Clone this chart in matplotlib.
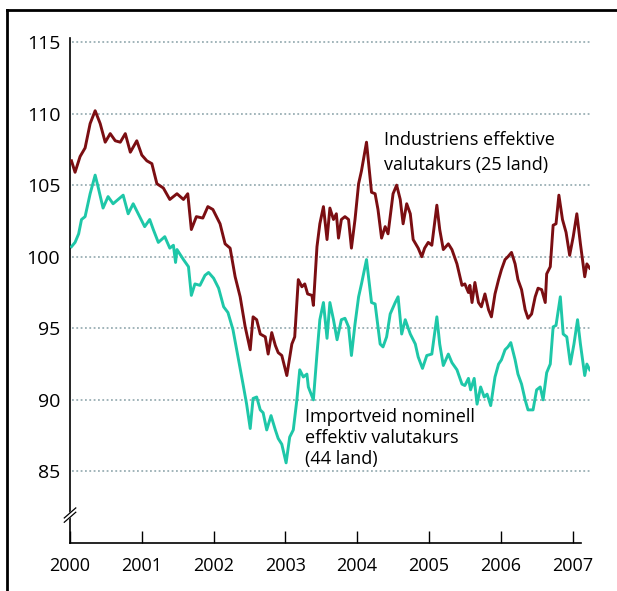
import numpy as np
import matplotlib
matplotlib.use('Agg')
import matplotlib.pyplot as plt
from matplotlib.lines import Line2D

plt.rcParams['font.family'] = ['Open Sans', 'DejaVu Sans']

# Industriens effektive valutakurs (25 land), decimal years
ind_t = [2000.02, 2000.07, 2000.14, 2000.21, 2000.28, 2000.35, 2000.42, 2000.49, 2000.56, 2000.63,
         2000.70, 2000.77, 2000.84, 2000.93, 2001.00, 2001.07, 2001.14, 2001.21, 2001.30, 2001.39,
         2001.49, 2001.58, 2001.64, 2001.69, 2001.76, 2001.85, 2001.92, 2001.99, 2002.09, 2002.16,
         2002.23, 2002.30, 2002.37, 2002.44, 2002.51, 2002.55, 2002.60, 2002.65, 2002.72, 2002.76,
         2002.81, 2002.86, 2002.90, 2002.95, 2003.02, 2003.09, 2003.13, 2003.18, 2003.23, 2003.27,
         2003.31, 2003.37, 2003.39, 2003.44, 2003.48, 2003.53, 2003.58, 2003.62, 2003.67, 2003.71,
         2003.74, 2003.78, 2003.83, 2003.88, 2003.92, 2003.97, 2004.02, 2004.06, 2004.13, 2004.20,
         2004.25, 2004.29, 2004.34, 2004.39, 2004.43, 2004.50, 2004.55, 2004.60, 2004.64, 2004.69,
         2004.74, 2004.78, 2004.85, 2004.90, 2004.94, 2004.99, 2005.04, 2005.11, 2005.15, 2005.20,
         2005.27, 2005.32, 2005.39, 2005.46, 2005.50, 2005.55, 2005.57, 2005.60, 2005.64, 2005.69,
         2005.73, 2005.78, 2005.83, 2005.87, 2005.92, 2005.97, 2006.01, 2006.06, 2006.10, 2006.15,
         2006.20, 2006.24, 2006.29, 2006.34, 2006.38, 2006.43, 2006.48, 2006.52, 2006.57, 2006.62,
         2006.64, 2006.69, 2006.73, 2006.77, 2006.81, 2006.86, 2006.91, 2006.96, 2007.01, 2007.06,
         2007.11, 2007.17, 2007.20, 2007.24]
ind_v = [106.7, 105.9, 107.0, 107.6, 109.3, 110.2, 109.3, 108.0, 108.6, 108.1,
         108.0, 108.6, 107.3, 108.1, 107.1, 106.7, 106.5, 105.1, 104.8, 104.0,
         104.4, 104.0, 104.4, 101.9, 102.8, 102.7, 103.5, 103.3, 102.3, 100.9,
         100.6, 98.6, 97.2, 95.1, 93.5, 95.8, 95.6, 94.6, 94.4, 93.2,
         94.7, 93.8, 93.3, 93.1, 91.7, 93.9, 94.4, 98.4, 97.9, 98.1,
         97.4, 97.3, 96.6, 100.7, 102.3, 103.5, 101.2, 103.4, 102.6, 103.0,
         101.3, 102.6, 102.8, 102.6, 100.6, 102.6, 105.1, 106.0, 108.0, 104.5,
         104.4, 103.3, 101.3, 102.1, 101.6, 104.4, 105.0, 104.0, 102.3, 103.7,
         103.0, 101.2, 100.6, 100.0, 100.6, 101.0, 100.8, 103.6, 101.9, 100.5,
         100.9, 100.5, 99.5, 98.0, 98.1, 97.5, 98.0, 96.8, 98.2, 96.8,
         96.5, 97.4, 96.3, 95.8, 97.4, 98.4, 99.1, 99.8, 100.0, 100.3,
         99.5, 98.4, 97.7, 96.3, 95.7, 96.0, 97.2, 97.8, 97.7, 96.8,
         98.8, 99.3, 102.2, 102.3, 104.3, 102.6, 101.7, 100.1, 101.4, 103.0,
         100.9, 98.6, 99.5, 99.2]

# Importveid nominell effektiv valutakurs (44 land)
imp_t = [2000.02, 2000.07, 2000.12, 2000.16, 2000.21, 2000.28, 2000.35, 2000.39, 2000.46, 2000.53,
         2000.60, 2000.67, 2000.74, 2000.81, 2000.88, 2000.95, 2001.04, 2001.11, 2001.16, 2001.23,
         2001.32, 2001.39, 2001.44, 2001.47, 2001.49, 2001.58, 2001.65, 2001.69, 2001.74, 2001.81,
         2001.88, 2001.93, 2002.00, 2002.07, 2002.14, 2002.20, 2002.27, 2002.34, 2002.41, 2002.46,
         2002.51, 2002.55, 2002.60, 2002.65, 2002.69, 2002.74, 2002.80, 2002.86, 2002.90, 2002.95,
         2003.01, 2003.06, 2003.11, 2003.16, 2003.20, 2003.25, 2003.30, 2003.32, 2003.39, 2003.44,
         2003.48, 2003.53, 2003.58, 2003.62, 2003.67, 2003.72, 2003.78, 2003.83, 2003.88, 2003.92,
         2003.97, 2004.02, 2004.06, 2004.13, 2004.20, 2004.25, 2004.32, 2004.36, 2004.41, 2004.46,
         2004.53, 2004.57, 2004.62, 2004.67, 2004.74, 2004.81, 2004.85, 2004.91, 2004.97, 2005.04,
         2005.11, 2005.15, 2005.20, 2005.27, 2005.32, 2005.39, 2005.46, 2005.50, 2005.55, 2005.58,
         2005.63, 2005.67, 2005.72, 2005.77, 2005.81, 2005.86, 2005.92, 2005.97, 2006.01, 2006.06,
         2006.10, 2006.14, 2006.20, 2006.24, 2006.29, 2006.34, 2006.38, 2006.45, 2006.50, 2006.55,
         2006.59, 2006.64, 2006.69, 2006.73, 2006.77, 2006.83, 2006.87, 2006.92, 2006.97, 2007.02,
         2007.07, 2007.11, 2007.17, 2007.20, 2007.24]
imp_v = [100.7, 101.0, 101.6, 102.6, 102.8, 104.4, 105.7, 104.9, 103.4, 104.2,
         103.7, 104.0, 104.3, 103.0, 103.7, 103.0, 102.1, 102.6, 101.9, 101.0,
         101.4, 100.6, 100.8, 99.6, 100.5, 99.8, 99.3, 97.3, 98.1, 98.0,
         98.7, 98.9, 98.5, 97.8, 96.5, 96.1, 94.9, 93.0, 91.1, 89.7,
         88.0, 90.1, 90.2, 89.3, 89.1, 87.9, 88.9, 87.9, 87.3, 86.9,
         85.6, 87.4, 87.9, 90.0, 92.1, 91.6, 91.8, 90.9, 90.0, 93.2,
         95.6, 96.8, 94.3, 96.8, 95.6, 94.2, 95.6, 95.7, 95.1, 93.1,
         95.3, 97.2, 98.1, 99.8, 96.8, 96.7, 93.9, 93.7, 94.4, 96.0,
         96.8, 97.2, 94.6, 95.6, 94.6, 93.9, 93.0, 92.2, 93.1, 93.2,
         95.8, 93.9, 92.4, 93.2, 92.6, 92.1, 91.1, 91.0, 91.5, 90.7,
         91.5, 89.7, 90.9, 90.2, 90.4, 89.6, 91.6, 92.5, 92.8, 93.5,
         93.7, 94.0, 92.8, 91.8, 91.1, 90.0, 89.3, 89.3, 90.7, 90.9,
         90.0, 91.9, 92.5, 95.1, 95.2, 97.2, 94.6, 94.4, 92.5, 93.9,
         95.6, 93.9, 91.7, 92.5, 92.1]

years = list(range(2000, 2008))
yticks = [85, 90, 95, 100, 105, 110, 115]

fig = plt.figure(figsize=(6.17, 5.91), dpi=100)
ax = fig.add_axes([0.1135, 0.0812, 0.8435, 0.855])

# dotted gridlines
for y in yticks:
    ax.axhline(y, color='#9aafb4', lw=1.3, ls=(0, (1, 1.4)), xmin=0.004, zorder=1)

ax.plot(imp_t, imp_v, color='#1ec7a8', lw=2.1, zorder=3)
ax.plot(ind_t, ind_v, color='#7b0e12', lw=2.1, zorder=3)

ax.set_xlim(2000, 2007.25)
ax.set_ylim(80, 115.3)
ax.set_xticks(years)
ax.set_xticklabels([str(y) for y in years], fontsize=13)
ax.set_yticks(yticks)
ax.set_yticklabels([str(y) for y in yticks], fontsize=14)
ax.tick_params(axis='x', direction='in', length=9, width=1, pad=10)
ax.tick_params(axis='y', length=0, pad=7)

for s in ['top', 'right']:
    ax.spines[s].set_visible(False)
ax.spines['bottom'].set_bounds(2000, 2007.12)
ax.spines['left'].set_linewidth(1.2)
ax.spines['bottom'].set_linewidth(1.2)

# axis break marks on y-axis
bx = 2000
ax.fill([bx - 0.06, bx + 0.06, bx + 0.06, bx - 0.06], [81.55, 82.05, 82.35, 81.85],
        color='white', clip_on=False, zorder=5)
for dy in (0.0, 0.3):
    ax.plot([bx - 0.08, bx + 0.08], [81.45 + dy, 82.15 + dy], color='black', lw=0.9,
            clip_on=False, zorder=6)

ax.text(2004.37, 108.75, 'Industriens effektive\nvalutakurs (25 land)', fontsize=13,
        va='top', ha='left', linespacing=1.45)
ax.text(2003.27, 89.45, 'Importveid nominell\neffektiv valutakurs\n(44 land)', fontsize=13,
        va='top', ha='left', linespacing=1.22)

# frame round the figure (left and top only)
fig.add_artist(Line2D([7 / 617, 7 / 617], [0, 1 - 10 / 591], color='black', lw=2))
fig.add_artist(Line2D([7 / 617, 1], [1 - 10 / 591, 1 - 10 / 591], color='black', lw=2))

fig.savefig('out.png', dpi=100)
